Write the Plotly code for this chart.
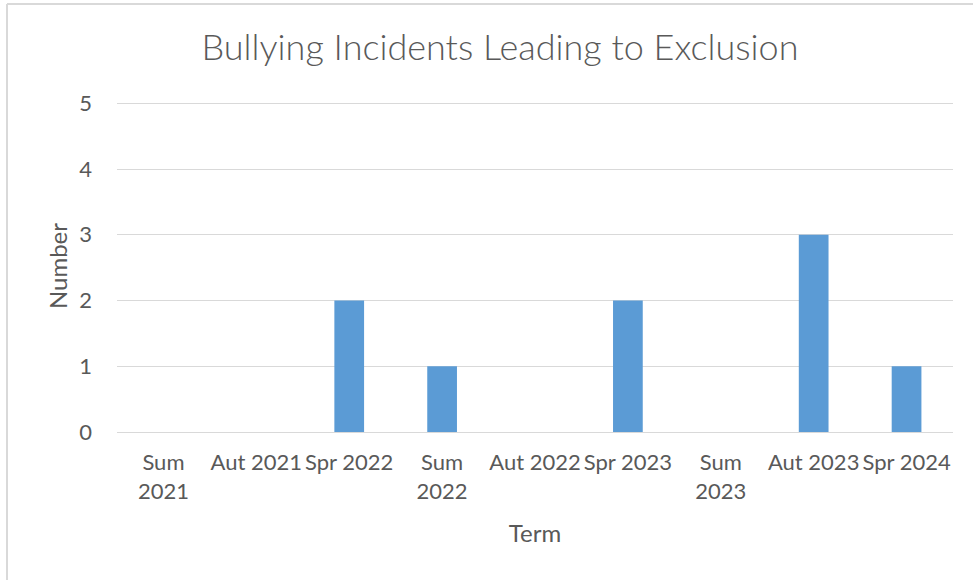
import plotly.graph_objects as go

terms = ["Sum<br>2021", "Aut 2021", "Spr 2022", "Sum<br>2022", "Aut 2022",
         "Spr 2023", "Sum<br>2023", "Aut 2023", "Spr 2024"]
incidents = [0, 0, 2, 1, 0, 2, 0, 3, 1]
y_ticks = [0, 1, 2, 3, 4, 5]

W, H = 973, 580
L, R, T, B = 117, 20, 100, 148
FONT = "Lato"
GREY = "#595959"

fig = go.Figure(go.Bar(x=terms, y=incidents, marker_color="#5B9BD5",
                       marker_line_width=0))

fig.update_layout(
    width=W, height=H,
    margin=dict(l=L, r=R, t=T, b=B),
    paper_bgcolor="white", plot_bgcolor="white",
    bargap=0.68,
    font=dict(family=FONT, color=GREY, size=22),
    title=dict(text="Bullying Incidents Leading to Exclusion",
               x=500 / W, xanchor="center", xref="container",
               y=1 - 47 / H, yanchor="middle",
               font=dict(family=FONT, size=36, color=GREY, weight=300)),
    showlegend=False,
)
fig.update_xaxes(
    title=dict(text="Term", font=dict(size=24, color=GREY), standoff=22),
    tickfont=dict(size=22, color=GREY),
    showgrid=False, showline=False, ticks="", ticklabelstandoff=15,
    categoryorder="array", categoryarray=terms,
)
fig.update_yaxes(
    title=dict(text="Number", font=dict(size=24, color=GREY), standoff=4),
    tickfont=dict(size=22, color=GREY),
    range=[0, 5.05], tickvals=y_ticks,
    showgrid=True, gridcolor="#D9D9D9", gridwidth=1,
    zeroline=True, zerolinecolor="#D9D9D9", zerolinewidth=1,
    showline=False, ticks="", ticklabelstandoff=24,
)

# Chart-area border (top and left edges, as in the reference)
x0 = (7 - L) / (W - L - R)
y0 = (H - 4 - B) / (H - T - B)
fig.add_shape(type="line", xref="paper", yref="paper",
              x0=x0, x1=(W - L) / (W - L - R) + 0.01, y0=y0, y1=y0,
              line=dict(color="#D9D9D9", width=2))
fig.add_shape(type="line", xref="paper", yref="paper",
              x0=x0, x1=x0, y0=y0, y1=-B / (H - T - B) - 0.01,
              line=dict(color="#D9D9D9", width=2))

fig.write_html("out.html", config={"displayModeBar": False},
               post_script="document.body.style.margin='0';")
